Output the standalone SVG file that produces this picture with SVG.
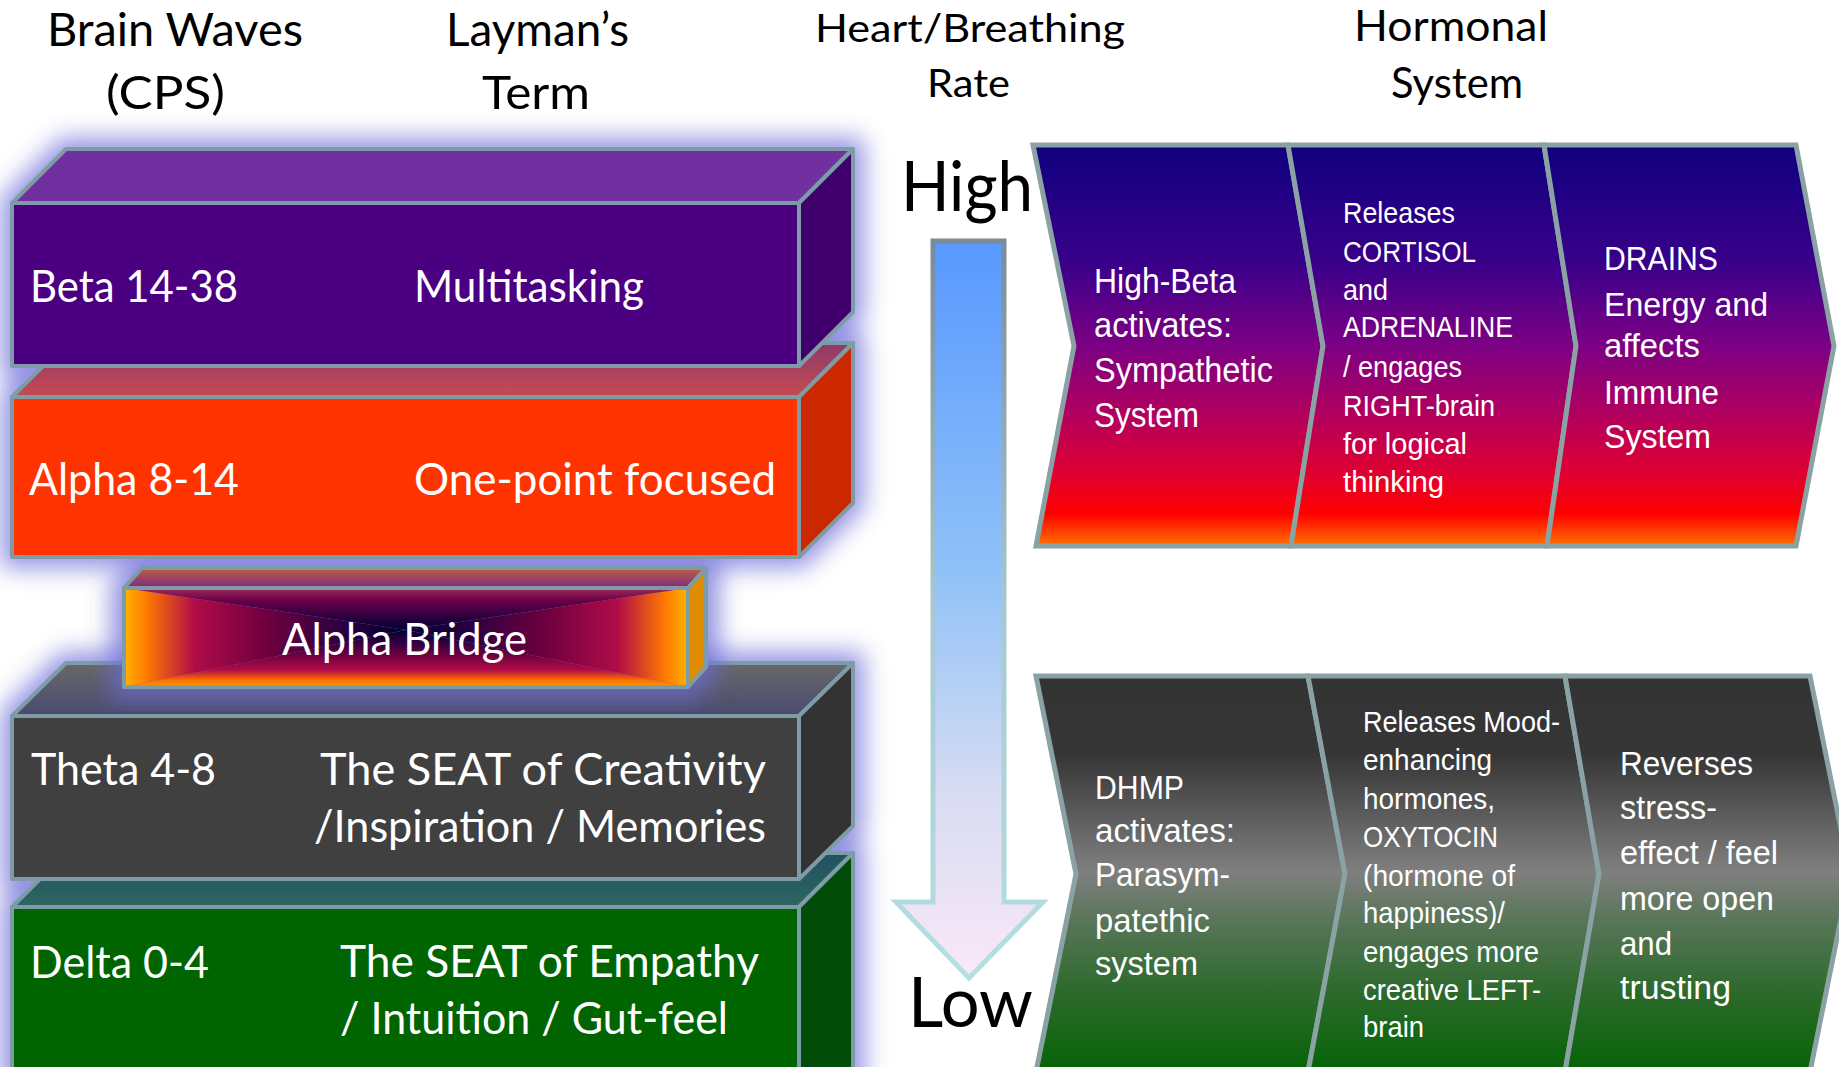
<svg xmlns="http://www.w3.org/2000/svg" width="1839" height="1067" viewBox="0 0 1839 1067">
<defs>
<style>
.hdr{font-family:Lato,"Liberation Sans",sans-serif;fill:#000}
.lbl{font-family:Lato,"Liberation Sans",sans-serif;fill:#fff;font-size:44px}
.ch{font-family:"Liberation Sans Narrow","Liberation Sans",sans-serif;fill:#fff}
.edge{stroke:#7d9ca8;stroke-width:4;stroke-linejoin:round}
.chev{stroke:#8aa2a4;stroke-width:5;stroke-linejoin:miter}
</style>
<filter id="glow" x="-20%" y="-20%" width="140%" height="140%"><feGaussianBlur stdDeviation="12"/></filter>
<linearGradient id="alphaTop" x1="0" y1="0" x2="0" y2="1"><stop offset="0" stop-color="#8c3a6a"/><stop offset="1" stop-color="#c84a50"/></linearGradient>
<linearGradient id="thetaTop" x1="0" y1="0" x2="0" y2="1"><stop offset="0" stop-color="#686868"/><stop offset="1" stop-color="#4a4a70"/></linearGradient>
<linearGradient id="deltaTop" x1="0" y1="0" x2="0" y2="1"><stop offset="0" stop-color="#225060"/><stop offset="1" stop-color="#2e6660"/></linearGradient>
<linearGradient id="brH" gradientUnits="userSpaceOnUse" x1="124" y1="0" x2="406" y2="0"><stop offset="0" stop-color="#ffb400"/><stop offset="0.08" stop-color="#ff7a00"/><stop offset="0.25" stop-color="#b00c48"/><stop offset="0.5" stop-color="#70003f"/><stop offset="0.78" stop-color="#2a0040"/><stop offset="1" stop-color="#00002e"/></linearGradient>
<linearGradient id="brHR" gradientUnits="userSpaceOnUse" x1="688" y1="0" x2="406" y2="0"><stop offset="0" stop-color="#ffb400"/><stop offset="0.08" stop-color="#ff7a00"/><stop offset="0.25" stop-color="#b00c48"/><stop offset="0.5" stop-color="#70003f"/><stop offset="0.78" stop-color="#2a0040"/><stop offset="1" stop-color="#00002e"/></linearGradient>
<linearGradient id="brB" gradientUnits="userSpaceOnUse" x1="0" y1="687" x2="0" y2="630"><stop offset="0" stop-color="#ffa000"/><stop offset="0.12" stop-color="#ff7000"/><stop offset="0.3" stop-color="#b00c48"/><stop offset="0.55" stop-color="#70003f"/><stop offset="0.8" stop-color="#2a0040"/><stop offset="1" stop-color="#00002e"/></linearGradient>
<linearGradient id="brT" gradientUnits="userSpaceOnUse" x1="0" y1="588" x2="0" y2="630"><stop offset="0" stop-color="#a02a58"/><stop offset="0.3" stop-color="#6a0048"/><stop offset="0.7" stop-color="#2a0040"/><stop offset="1" stop-color="#00002e"/></linearGradient>
<linearGradient id="brTop" x1="0" y1="0" x2="0" y2="1"><stop offset="0" stop-color="#c06040"/><stop offset="1" stop-color="#7a2a80"/></linearGradient>
<linearGradient id="hot" gradientUnits="userSpaceOnUse" x1="0" y1="145" x2="0" y2="546"><stop offset="0" stop-color="#10007e"/><stop offset="0.3" stop-color="#3a008a"/><stop offset="0.5" stop-color="#7c0084"/><stop offset="0.68" stop-color="#b4005c"/><stop offset="0.82" stop-color="#e00030"/><stop offset="0.92" stop-color="#ff0000"/><stop offset="1" stop-color="#ff7400"/></linearGradient>
<linearGradient id="calm" gradientUnits="userSpaceOnUse" x1="0" y1="676" x2="0" y2="1067"><stop offset="0" stop-color="#333333"/><stop offset="0.2" stop-color="#363636"/><stop offset="0.5" stop-color="#7f7f7f"/><stop offset="0.62" stop-color="#5a765a"/><stop offset="0.8" stop-color="#2e6a2e"/><stop offset="1" stop-color="#086408"/></linearGradient>
<linearGradient id="arrowFill" gradientUnits="userSpaceOnUse" x1="0" y1="241" x2="0" y2="978"><stop offset="0" stop-color="#5898ff"/><stop offset="0.45" stop-color="#90c2f8"/><stop offset="0.75" stop-color="#d8dcf2"/><stop offset="1" stop-color="#fae8f8"/></linearGradient>
<linearGradient id="arrowStroke" gradientUnits="userSpaceOnUse" x1="0" y1="241" x2="0" y2="978"><stop offset="0" stop-color="#7a8c98"/><stop offset="0.5" stop-color="#a8c8d0"/><stop offset="1" stop-color="#b4e0e0"/></linearGradient>
</defs>
<rect x="0" y="0" width="1839" height="1067" fill="#fff"/>

<g id="stack-glow" filter="url(#glow)" fill="#7878dc" stroke="#7878dc" stroke-width="22" opacity="0.8">
<polygon points="12,203 66,149 853,149 853,312 799,366 12,366"/>
<polygon points="12,397 66,343 853,343 853,503 799,557 12,557"/>
<polygon points="12,716 66,663 853,663 853,826 799,879 12,879"/>
<polygon points="12,907 66,853 853,853 853,1080 12,1080"/>
</g>

<g id="node-delta">
<polygon class="edge" points="12,907 66,853 853,853 799,907" fill="url(#deltaTop)"/>
<polygon class="edge" points="799,907 853,853 853,1080 799,1080" fill="#004c08"/>
<rect class="edge" x="12" y="907" width="787" height="175" fill="#006400"/>
<text class="lbl" x="30" y="978" textLength="179" lengthAdjust="spacingAndGlyphs">Delta 0-4</text>
<text class="lbl" x="340" y="977" textLength="419" lengthAdjust="spacingAndGlyphs">The SEAT of Empathy</text>
<text class="lbl" x="340" y="1034" textLength="388" lengthAdjust="spacingAndGlyphs">/ Intuition / Gut-feel</text>
</g>

<g id="node-theta">
<polygon class="edge" points="12,716 66,663 853,663 799,716" fill="url(#thetaTop)"/>
<polygon class="edge" points="799,716 853,663 853,826 799,879" fill="#333333"/>
<rect class="edge" x="12" y="716" width="787" height="163" fill="#404040"/>
<text class="lbl" x="31" y="785" textLength="185" lengthAdjust="spacingAndGlyphs">Theta 4-8</text>
<text class="lbl" x="320" y="785" textLength="446" lengthAdjust="spacingAndGlyphs">The SEAT of Creativity</text>
<text class="lbl" x="314" y="842" textLength="452" lengthAdjust="spacingAndGlyphs">/Inspiration / Memories</text>
</g>

<g id="bridge-glow" filter="url(#glow)" opacity="0.75">
<polygon points="124,588 142,568 706,568 706,667 688,687 124,687" fill="#6c6cd8" stroke="#6c6cd8" stroke-width="26"/>
</g>

<g id="node-alpha-bridge">
<polygon class="edge" points="124,588 142,568 706,568 688,588" fill="url(#brTop)"/>
<polygon class="edge" points="688,588 706,568 706,667 688,687" fill="#e08c00"/>
<polygon points="124,588 124,687 406,630" fill="url(#brH)"/>
<polygon points="688,588 688,687 406,630" fill="url(#brHR)"/>
<polygon points="124,687 688,687 406,630" fill="url(#brB)"/>
<polygon points="124,588 688,588 406,630" fill="url(#brT)"/>
<rect class="edge" x="124" y="588" width="564" height="99" fill="none"/>
<text class="lbl" x="282" y="655" textLength="245" lengthAdjust="spacingAndGlyphs">Alpha Bridge</text>
</g>

<g id="node-alpha">
<polygon class="edge" points="12,397 66,343 853,343 799,397" fill="url(#alphaTop)"/>
<polygon class="edge" points="799,397 853,343 853,503 799,557" fill="#cc2800"/>
<rect class="edge" x="12" y="397" width="787" height="160" fill="#ff3300"/>
<text class="lbl" x="29" y="495" textLength="210" lengthAdjust="spacingAndGlyphs">Alpha 8-14</text>
<text class="lbl" x="414" y="495" textLength="362" lengthAdjust="spacingAndGlyphs">One-point focused</text>
</g>

<g id="node-beta">
<polygon class="edge" points="12,203 66,149 853,149 799,203" fill="#7030a0"/>
<polygon class="edge" points="799,203 853,149 853,312 799,366" fill="#3f006c"/>
<rect class="edge" x="12" y="203" width="787" height="163" fill="#4b0082"/>
<text class="lbl" x="30" y="302" textLength="208" lengthAdjust="spacingAndGlyphs">Beta 14-38</text>
<text class="lbl" x="414" y="302" textLength="230" lengthAdjust="spacingAndGlyphs">Multitasking</text>
</g>

<g id="headers">
<text class="hdr" font-size="47" x="47" y="46" textLength="256" lengthAdjust="spacingAndGlyphs">Brain Waves</text>
<text class="hdr" font-size="47" x="106" y="109" textLength="119" lengthAdjust="spacingAndGlyphs">(CPS)</text>
<text class="hdr" font-size="47" x="446" y="46" textLength="183" lengthAdjust="spacingAndGlyphs">Layman’s</text>
<text class="hdr" font-size="47" x="482" y="109" textLength="108" lengthAdjust="spacingAndGlyphs">Term</text>
<text class="hdr" font-size="38" x="815" y="42" textLength="310" lengthAdjust="spacingAndGlyphs">Heart/Breathing</text>
<text class="hdr" font-size="38" x="927" y="97" textLength="83" lengthAdjust="spacingAndGlyphs">Rate</text>
<text class="hdr" font-size="42" x="1354" y="41" textLength="194" lengthAdjust="spacingAndGlyphs">Hormonal</text>
<text class="hdr" font-size="42" x="1391" y="98" textLength="132" lengthAdjust="spacingAndGlyphs">System</text>
</g>

<g id="connectors">
<path d="M933,241 H1004 V902 H1043 L969,978 L896,902 H933 Z" fill="url(#arrowFill)" stroke="url(#arrowStroke)" stroke-width="5" stroke-linejoin="miter"/>
</g>

<g id="node-high">
<text class="hdr" font-size="70" x="901" y="211" textLength="132" lengthAdjust="spacingAndGlyphs">High</text>
</g>
<g id="node-low">
<text class="hdr" font-size="70" x="908" y="1027" textLength="125" lengthAdjust="spacingAndGlyphs">Low</text>
</g>

<g id="node-sympathetic">
<polygon class="chev" points="1033,145 1288,145 1323,346 1291,546 1036,546 1074,346" fill="url(#hot)"/>
<text class="ch" font-size="35" x="1094" y="293" textLength="142" lengthAdjust="spacingAndGlyphs">High-Beta</text>
<text class="ch" font-size="35" x="1094" y="337" textLength="138" lengthAdjust="spacingAndGlyphs">activates:</text>
<text class="ch" font-size="35" x="1094" y="382" textLength="179" lengthAdjust="spacingAndGlyphs">Sympathetic</text>
<text class="ch" font-size="35" x="1094" y="427" textLength="105" lengthAdjust="spacingAndGlyphs">System</text>
</g>
<g id="node-cortisol">
<polygon class="chev" points="1288,145 1544,145 1576,346 1547,546 1291,546 1323,346" fill="url(#hot)"/>
<text class="ch" font-size="30" x="1343" y="223" textLength="112" lengthAdjust="spacingAndGlyphs">Releases</text>
<text class="ch" font-size="30" x="1343" y="262" textLength="133" lengthAdjust="spacingAndGlyphs">CORTISOL</text>
<text class="ch" font-size="30" x="1343" y="300" textLength="45" lengthAdjust="spacingAndGlyphs">and</text>
<text class="ch" font-size="30" x="1343" y="337" textLength="170" lengthAdjust="spacingAndGlyphs">ADRENALINE</text>
<text class="ch" font-size="30" x="1343" y="377" textLength="119" lengthAdjust="spacingAndGlyphs">/ engages</text>
<text class="ch" font-size="30" x="1343" y="416" textLength="152" lengthAdjust="spacingAndGlyphs">RIGHT-brain</text>
<text class="ch" font-size="30" x="1343" y="454" textLength="124" lengthAdjust="spacingAndGlyphs">for logical</text>
<text class="ch" font-size="30" x="1343" y="492" textLength="101" lengthAdjust="spacingAndGlyphs">thinking</text>
</g>
<g id="node-drains">
<polygon class="chev" points="1544,145 1796,145 1834,346 1796,546 1547,546 1576,346" fill="url(#hot)"/>
<text class="ch" font-size="33" x="1604" y="270" textLength="114" lengthAdjust="spacingAndGlyphs">DRAINS</text>
<text class="ch" font-size="33" x="1604" y="316" textLength="164" lengthAdjust="spacingAndGlyphs">Energy and</text>
<text class="ch" font-size="33" x="1604" y="357" textLength="96" lengthAdjust="spacingAndGlyphs">affects</text>
<text class="ch" font-size="33" x="1604" y="404" textLength="115" lengthAdjust="spacingAndGlyphs">Immune</text>
<text class="ch" font-size="33" x="1604" y="448" textLength="107" lengthAdjust="spacingAndGlyphs">System</text>
</g>

<g id="node-parasympathetic">
<polygon class="chev" points="1036,676 1308,676 1345,874 1308,1072 1036,1072 1076,874" fill="url(#calm)"/>
<text class="ch" font-size="34" x="1095" y="799" textLength="89" lengthAdjust="spacingAndGlyphs">DHMP</text>
<text class="ch" font-size="34" x="1095" y="842" textLength="140" lengthAdjust="spacingAndGlyphs">activates:</text>
<text class="ch" font-size="34" x="1095" y="886" textLength="135" lengthAdjust="spacingAndGlyphs">Parasym-</text>
<text class="ch" font-size="34" x="1095" y="932" textLength="115" lengthAdjust="spacingAndGlyphs">patethic</text>
<text class="ch" font-size="34" x="1095" y="975" textLength="103" lengthAdjust="spacingAndGlyphs">system</text>
</g>
<g id="node-oxytocin">
<polygon class="chev" points="1308,676 1565,676 1599,874 1565,1072 1308,1072 1345,874" fill="url(#calm)"/>
<text class="ch" font-size="29" x="1363" y="732" textLength="197" lengthAdjust="spacingAndGlyphs">Releases Mood-</text>
<text class="ch" font-size="29" x="1363" y="770" textLength="129" lengthAdjust="spacingAndGlyphs">enhancing</text>
<text class="ch" font-size="29" x="1363" y="809" textLength="132" lengthAdjust="spacingAndGlyphs">hormones,</text>
<text class="ch" font-size="29" x="1363" y="847" textLength="135" lengthAdjust="spacingAndGlyphs">OXYTOCIN</text>
<text class="ch" font-size="29" x="1363" y="886" textLength="152" lengthAdjust="spacingAndGlyphs">(hormone of</text>
<text class="ch" font-size="29" x="1363" y="923" textLength="142" lengthAdjust="spacingAndGlyphs">happiness)/</text>
<text class="ch" font-size="29" x="1363" y="962" textLength="176" lengthAdjust="spacingAndGlyphs">engages more</text>
<text class="ch" font-size="29" x="1363" y="1000" textLength="178" lengthAdjust="spacingAndGlyphs">creative LEFT-</text>
<text class="ch" font-size="29" x="1363" y="1037" textLength="61" lengthAdjust="spacingAndGlyphs">brain</text>
</g>
<g id="node-reverses">
<polygon class="chev" points="1565,676 1810,676 1850,874 1810,1072 1565,1072 1599,874" fill="url(#calm)"/>
<text class="ch" font-size="34" x="1620" y="775" textLength="133" lengthAdjust="spacingAndGlyphs">Reverses</text>
<text class="ch" font-size="34" x="1620" y="819" textLength="97" lengthAdjust="spacingAndGlyphs">stress-</text>
<text class="ch" font-size="34" x="1620" y="864" textLength="158" lengthAdjust="spacingAndGlyphs">effect / feel</text>
<text class="ch" font-size="34" x="1620" y="910" textLength="154" lengthAdjust="spacingAndGlyphs">more open</text>
<text class="ch" font-size="34" x="1620" y="955" textLength="52" lengthAdjust="spacingAndGlyphs">and</text>
<text class="ch" font-size="34" x="1620" y="999" textLength="111" lengthAdjust="spacingAndGlyphs">trusting</text>
</g>
</svg>
